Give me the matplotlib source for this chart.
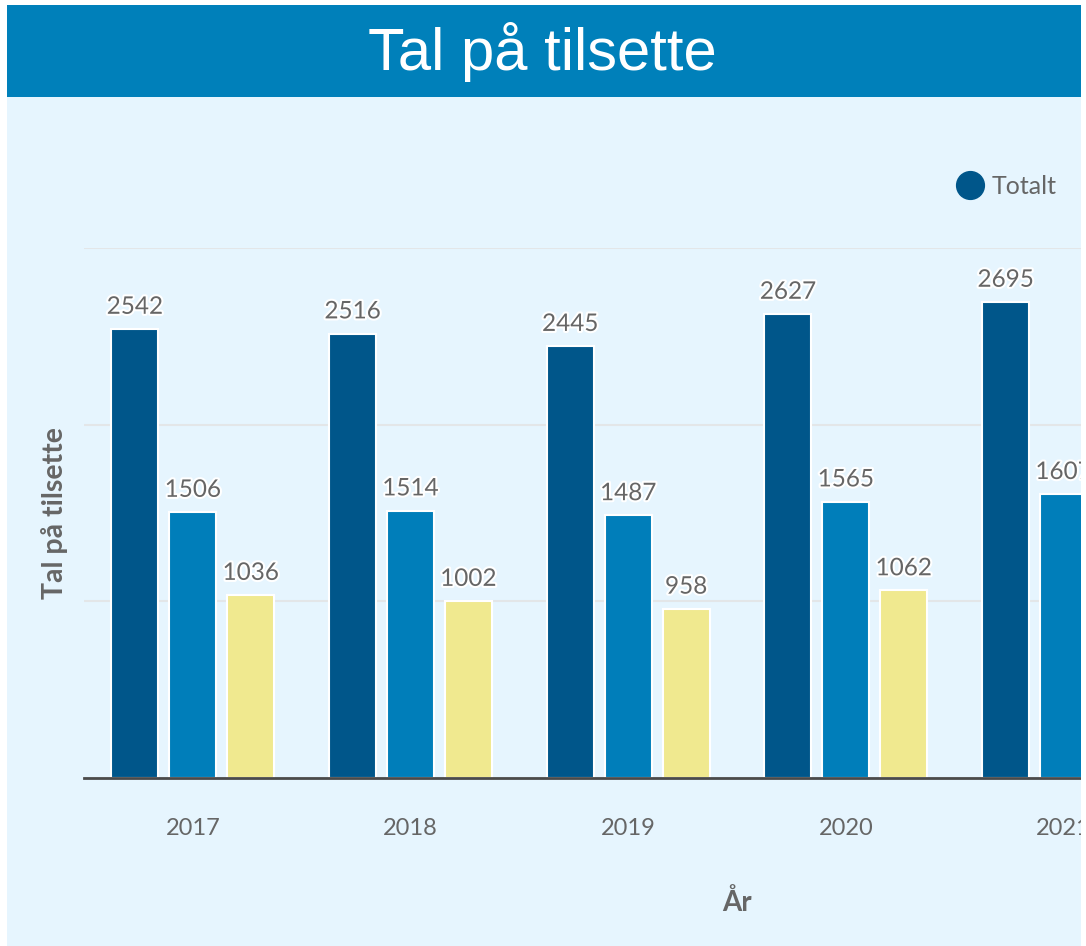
import matplotlib
matplotlib.use("Agg")
import matplotlib.pyplot as plt
import matplotlib.patheffects as pe
from matplotlib.patches import Rectangle
from matplotlib.lines import Line2D
import numpy as np

years = ["2017", "2018", "2019", "2020", "2021"]
series_names = ["Totalt", "Kvinner", "Menn"]
totalt = [2542, 2516, 2445, 2627, 2695]
kvinner = [1506, 1514, 1487, 1565, 1607]
menn = [1036, 1002, 958, 1062, 1088]
colors = ["#00568A", "#007EBA", "#F0E98F"]
n_slots = 6  # axis spans six year slots; only the first five are visible

W, H = 1086, 946
fig = plt.figure(figsize=(W / 100, H / 100), dpi=100)
fig.patch.set_facecolor("white")

# background panels
fig.patches.append(Rectangle((7 / W, 0), (1081 - 7) / W, (H - 97) / H,
                             transform=fig.transFigure, facecolor="#E6F5FE",
                             edgecolor="none", zorder=-10))
fig.patches.append(Rectangle((7 / W, (H - 97) / H), (1081 - 7) / W, (97 - 5) / H,
                             transform=fig.transFigure, facecolor="#0080BA",
                             edgecolor="none", zorder=-10))
# white strip at the right edge (chart is cut there)
fig.patches.append(Rectangle((1081 / W, 0), 10 / W, 1,
                             transform=fig.transFigure, facecolor="white",
                             edgecolor="none", zorder=20))
fig.text(542 / W, (H - 52) / H, "Tal på tilsette", color="white",
         fontsize=43, ha="center", va="center", family="Liberation Sans")

left, right = 84, 1390
top, bottom = 248, 778
ax = fig.add_axes([left / W, (H - bottom) / H, (right - left) / W, (bottom - top) / H])
ax.set_facecolor("none")
ax.set_xlim(-0.5, n_slots - 0.5)
ax.set_ylim(0, 3000)
ax.set_yticks([0, 1000, 2000, 3000])
ax.set_yticklabels([])
ax.tick_params(axis="y", length=0)
ax.grid(axis="y", color="#E3E6E8", linewidth=1.5, zorder=0)
ax.set_axisbelow(True)
for s in ["top", "right", "left"]:
    ax.spines[s].set_visible(False)
ax.spines["bottom"].set_color("#4A4A4A")
ax.spines["bottom"].set_linewidth(2)
ax.spines["bottom"].set_zorder(5)

x = np.arange(len(years))
bw = 0.216
step = 0.266
data = [totalt, kvinner, menn]
halo = [pe.withStroke(linewidth=3, foreground="white")]
for i, (vals, col) in enumerate(zip(data, colors)):
    xs = x + (i - 1) * step
    ax.bar(xs, vals, width=bw, color=col, edgecolor="white",
           linewidth=1.5, zorder=3)
    for xi, v in zip(xs, vals):
        ax.annotate(str(v), (xi, v), xytext=(0, 8), textcoords="offset points",
                    ha="center", va="bottom", fontsize=17.5, color="#666666",
                    family="Lato", path_effects=halo, zorder=4)

ax.set_xticks(x)
ax.set_xticklabels(years, fontsize=17, color="#666666", family="Lato")
ax.tick_params(axis="x", length=0, pad=29)

ax.set_xlabel("År", fontsize=20, fontweight="bold", color="#666666",
              family="Lato", labelpad=36)
ax.set_ylabel("Tal på tilsette", fontsize=20.5, fontweight="bold", color="#666666",
              family="Lato", labelpad=8)

handles = [Line2D([], [], marker="o", linestyle="", markersize=20,
                  markerfacecolor=c, markeredgecolor=c) for c in colors]
fig.legend(handles, series_names, loc="center left",
           bbox_to_anchor=(922 / W, (H - 186) / H), ncol=3, frameon=False,
           labelcolor="#666666", handletextpad=-0.1,
           columnspacing=1.5, prop={"family": "Lato", "size": 18})

fig.savefig("out.png", dpi=100)
